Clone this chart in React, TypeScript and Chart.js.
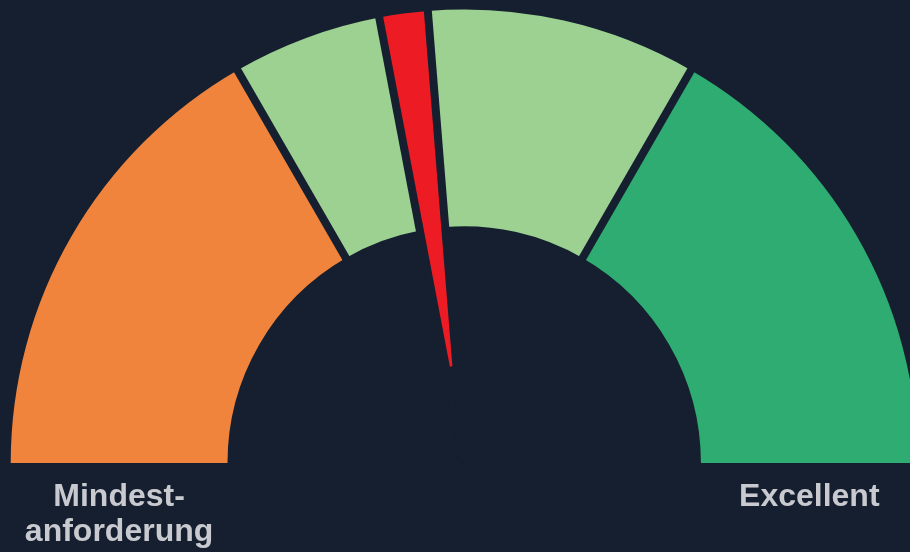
import React, { useEffect, useRef } from "react";
import { Chart, registerables } from "chart.js";

Chart.register(...registerables);

// ---- data (angles of each gauge band, in degrees of the half circle) ----
const segmentNames = ["Mindestanforderung", "Basis", "Ist-Wert", "Gut", "Excellent"];
const segmentValues = [60, 19.2, 6.2, 34.6, 60];
const segmentColors = ["#f0843c", "#9cd192", "#ed1c24", "#9cd192", "#2eac72"];
const needleIndex = 2;
const startLabel = ["Mindest-", "anforderung"];
const endLabel = ["Excellent"];

const BG = "#151f2f";
const TEXT = "#c8cad0";
const NEEDLE_TIP = 0.215; // fraction of outer radius where the needle ends

const gaugePlugin = {
  id: "gaugeDecor",
  afterDatasetsUpdate(chart: any) {
    const arc: any = chart.getDatasetMeta(0).data[needleIndex];
    if (arc) arc.innerRadius = arc.outerRadius * NEEDLE_TIP;
  },
  afterDatasetsDraw(chart: any) {
    const arcs: any[] = chart.getDatasetMeta(0).data;
    if (!arcs.length) return;
    const ctx = chart.ctx as CanvasRenderingContext2D;
    ctx.save();
    ctx.strokeStyle = BG;
    ctx.lineWidth = 8;
    ctx.lineCap = "butt";
    for (let i = 0; i < arcs.length - 1; i++) {
      const a = arcs[i];
      const ang = a.endAngle;
      ctx.beginPath();
      ctx.moveTo(a.x, a.y);
      ctx.lineTo(
        a.x + Math.cos(ang) * (a.outerRadius + 6),
        a.y + Math.sin(ang) * (a.outerRadius + 6)
      );
      ctx.stroke();
    }
    const first = arcs[0];
    const last = arcs[arcs.length - 1];
    const mid = (first.outerRadius + first.innerRadius) / 2;
    ctx.fillStyle = TEXT;
    ctx.font = "bold 32px 'Liberation Sans', Arial, sans-serif";
    ctx.textAlign = "center";
    ctx.textBaseline = "alphabetic";
    const y0 = first.y + 42.7;
    const lh = 35;
    startLabel.forEach((t, i) => ctx.fillText(t, first.x - mid, y0 + i * lh));
    endLabel.forEach((t, i) => ctx.fillText(t, last.x + mid, y0 + i * lh));
    ctx.restore();
  },
};

export default function App() {
  const ref = useRef<HTMLCanvasElement | null>(null);
  useEffect(() => {
    if (!ref.current) return;
    const chart = new Chart(ref.current, {
      type: "doughnut",
      data: {
        labels: segmentNames,
        datasets: [
          {
            data: segmentValues,
            backgroundColor: segmentColors,
            borderWidth: 0,
            hoverOffset: 0,
          },
        ],
      },
      options: {
        responsive: false,
        animation: false,
        events: [],
        circumference: 180,
        rotation: -90,
        cutout: "52.2%",
        radius: 453.5,
        layout: { padding: { left: 18.4, right: 0, top: 0, bottom: 79.5 } },
        plugins: {
          legend: { display: false },
          tooltip: { enabled: false },
          title: { display: false },
        },
      } as any,
      plugins: [gaugePlugin],
    });
    return () => chart.destroy();
  }, []);
  return (
    <div
      style={{
        position: "absolute",
        left: 0,
        top: 0,
        width: 910,
        height: 552,
        background: BG,
        overflow: "hidden",
      }}
    >
      <canvas ref={ref} width={910} height={552} style={{ display: "block" }} />
    </div>
  );
}
